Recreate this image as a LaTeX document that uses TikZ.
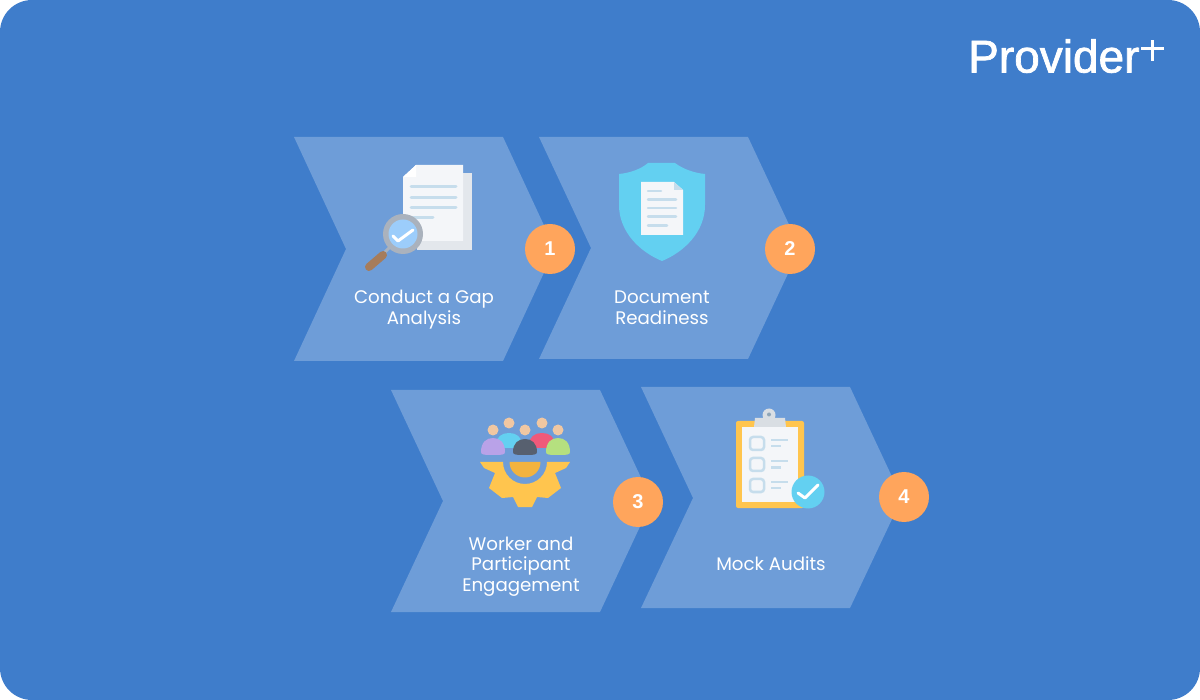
\documentclass[tikz,border=0pt]{standalone}
\usepackage{fontspec}
\setmainfont{Poppins}
\newfontfamily\logofont[FakeBold=1.5]{Liberation Sans}
\newfontfamily\digitfont{Liberation Sans}
\definecolor{bgblue}{HTML}{3F7DCB}
\definecolor{chev}{HTML}{6E9DD8}
\definecolor{badge}{HTML}{FFA55C}
\definecolor{paper}{HTML}{F4F6F9}
\definecolor{paperback}{HTML}{E3E7EC}
\definecolor{lineblue}{HTML}{C6DDEC}
\definecolor{sky}{HTML}{63D0F1}
\definecolor{gold}{HTML}{FFC54E}
\definecolor{amber}{HTML}{F2B33F}
\definecolor{skin}{HTML}{F0C7A2}
\definecolor{lensgrey}{HTML}{AAB2BD}
\definecolor{lensblue}{HTML}{9CCDFB}
\definecolor{brown}{HTML}{A67C5B}
\definecolor{rosered}{HTML}{F0597A}
\definecolor{lilac}{HTML}{B9A2E8}
\definecolor{limeg}{HTML}{B5E07F}
\definecolor{slate}{HTML}{57606F}
\definecolor{clipgrey}{HTML}{D9DEE3}
\definecolor{holegrey}{HTML}{8FA6B8}
\tikzset{
  chevron/.style={fill=chev},
  numbadge/.style={circle,fill=badge,minimum size=50pt,inner sep=0pt,text=white,font=\digitfont\fontsize{20}{20}\selectfont\bfseries},
  steplabel/.style={text=white,align=center,inner sep=0pt,font=\fontsize{18.2}{20.5}\selectfont},
  docline/.style={lineblue,line width=3pt,line cap=round},
  tick/.style={white,line width=3pt,line cap=round,line join=round},
  head/.style={fill=skin},
}
\newcommand{\dome}[5]{\fill[#1] (#2-#4,#3-3) .. controls (#2-#4,#3-#5*0.75) and (#2-#4*0.55,#3-#5) .. (#2,#3-#5) .. controls (#2+#4*0.55,#3-#5) and (#2+#4,#3-#5*0.75) .. (#2+#4,#3-3) .. controls (#2+#4,#3-0.5) and (#2+#4*0.7,#3) .. (#2+#4*0.5,#3) -- (#2-#4*0.5,#3) .. controls (#2-#4*0.7,#3) and (#2-#4,#3-0.5) .. (#2-#4,#3-3) -- cycle;}
\begin{document}
\begin{tikzpicture}[x=1pt,y=-1pt]
\useasboundingbox (0,0) rectangle (1200,700);
\fill[white] (0,0) rectangle (1200,700);
\fill[bgblue,rounded corners=32pt] (0,0) rectangle (1200,700);
% chevrons
\fill[chevron] (294,137) -- (503,137) -- (555,249) -- (503,361) -- (294,361) -- (346,249) -- cycle;
\fill[chevron] (539,137) -- (748,137) -- (800,248) -- (748,359) -- (539,359) -- (591,248) -- cycle;
\fill[chevron] (391,390) -- (600,390) -- (652,501) -- (600,612) -- (391,612) -- (443,501) -- cycle;
\fill[chevron] (641,387) -- (850,387) -- (902,498) -- (850,608) -- (641,608) -- (693,498) -- cycle;
% logo
\node[text=white,anchor=base west,inner sep=0pt,font=\logofont\fontsize{46}{46}\selectfont] (logo) at (968,72.5) {Provider};
\fill[white] (1141,47) rectangle (1164,50);
\fill[white] (1151,40) rectangle (1154,61);
% icon 1
\fill[paperback] (417,173) rectangle (472,250);
\fill[paper] (416,165) -- (463,165) -- (463,241) -- (403,241) -- (403,177) -- cycle;
\fill[white] (416,165) -- (416,177) -- (403,177) -- cycle;
\draw[docline] (411,187) -- (456,187);
\draw[docline] (411,197.5) -- (456,197.5);
\draw[docline] (411,208) -- (456,208);
\draw[docline] (411,218) -- (433,218);
\draw[lensgrey,line width=3pt] (390,247) -- (383,254);
\draw[brown,line width=8pt,line cap=round] (383,255) -- (369,267);
\fill[lensgrey] (403,234) circle (20);
\fill[lensblue] (403,234) circle (14.5);
\draw[tick] (393,236) -- (398,241) -- (413,230);
% icon 2
\fill[sky] (648,163) -- (675,163) .. controls (683,169) and (694,173) .. (705,174) -- (705,205) .. controls (705,232) and (684,252) .. (662,261) .. controls (640,252) and (619,232) .. (619,205) -- (619,174) .. controls (630,173) and (641,169) .. (648,163) -- cycle;
\fill[paper] (641,182) -- (674,182) -- (683,190) -- (683,235) -- (641,235) -- cycle;
\fill[lineblue] (674,182) -- (674,190) -- (683,190) -- cycle;
\draw[docline,line width=2.5pt] (648,191) -- (661,191);
\draw[docline,line width=2.5pt] (648,199.5) -- (676,199.5);
\draw[docline,line width=2.5pt] (648,208) -- (676,208);
\draw[docline,line width=2.5pt] (648,216.5) -- (676,216.5);
\draw[docline,line width=2.5pt] (648,225.5) -- (667,225.5);
% icon 3
\fill[head] (493,430) circle (5.5);
\fill[head] (509,423) circle (5.5);
\fill[head] (525,430) circle (5.5);
\fill[head] (542,423) circle (5.5);
\fill[head] (558,430) circle (5.5);
\dome{sky}{509}{448}{13}{15}
\dome{rosered}{542}{448}{13}{15}
\dome{lilac}{493}{455}{12}{17}
\dome{limeg}{558}{455}{12}{17}
\dome{slate}{525}{455}{12}{16}
\begin{scope}[shift={(525,462)}]
\fill[gold] (45,0) -- (41,6) -- (30,11) -- (36,26) -- (23,36) -- (12,35) -- (7,45) -- (-7,45) -- (-12,35) -- (-23,36) -- (-36,26) -- (-30,11) -- (-41,6) -- (-45,0) -- (-22,0) arc[start angle=180,end angle=0,radius=22] -- cycle;
\fill[amber] (-15.5,0) arc[start angle=180,end angle=0,radius=15.5] -- cycle;
\end{scope}
% icon 4
\fill[gold,rounded corners=2pt] (736,421) rectangle (804,508);
\fill[paper] (742,427) rectangle (798,502);
\fill[clipgrey] (769,415) circle (6.5);
\fill[clipgrey] (754,427) -- (755,418) -- (785,418) -- (786,427) -- cycle;
\fill[holegrey] (769,414.5) circle (2);
\draw[lineblue,line width=2.5pt,rounded corners=3pt] (750,437) rectangle (764,450);
\draw[lineblue,line width=2.5pt,rounded corners=3pt] (750,458) rectangle (764,471);
\draw[lineblue,line width=2.5pt,rounded corners=3pt] (750,479) rectangle (764,492);
\draw[lineblue,line width=2.2pt] (771,440) -- (788,440);
\draw[lineblue,line width=2.2pt] (771,446) -- (781,446);
\draw[lineblue,line width=2.2pt] (771,461) -- (788,461);
\draw[lineblue,line width=2.2pt] (771,467.5) -- (781,467.5);
\draw[lineblue,line width=2.2pt] (771,482) -- (788,482);
\draw[lineblue,line width=2.2pt] (771,488) -- (781,488);
\fill[sky] (808,492) circle (16.5);
\draw[tick] (798,493) -- (805,498) -- (818,485);
% badges
\node[numbadge] (b1) at (550,249) {1};
\node[numbadge] (b2) at (790,249) {2};
\node[numbadge] (b3) at (638,502) {3};
\node[numbadge] (b4) at (904,497) {4};
% labels
\node[steplabel] (l1) at (424,309.5) {Conduct a Gap\\Analysis};
\node[steplabel] (l2) at (662,307.5) {Document\\Readiness};
\node[steplabel] (l3) at (521,566.5) {Worker and\\Participant\\Engagement};
\node[steplabel] (l4) at (771,564) {Mock Audits};
\end{tikzpicture}
\end{document}
